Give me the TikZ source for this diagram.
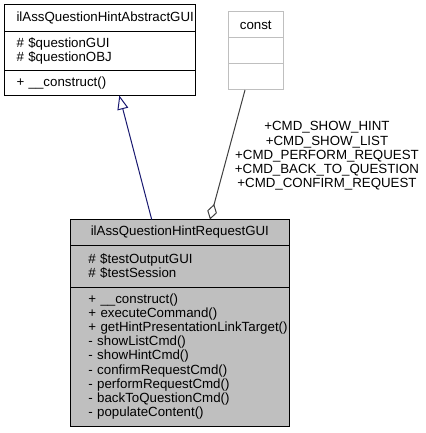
\documentclass[tikz,border=0pt]{standalone}
\usepackage{fontspec}
\setmainfont{Liberation Sans}
\usepackage{tikz}
\usetikzlibrary{positioning, arrows.meta, calc}
\definecolor{dgray}{RGB}{64,64,64}
\definecolor{lgray}{RGB}{191,191,191}
\definecolor{cgray}{RGB}{191,191,191}
\definecolor{inhblue}{RGB}{25,25,112}
\hyphenpenalty=10000
\exhyphenpenalty=10000

\begin{document}
\begin{tikzpicture}[x=1pt, y=-1pt,
    every node/.style={font=\fontsize{13.3}{14.2}\selectfont, inner ysep=0pt, outer sep=0pt},
    part/.style={draw, line width=1pt, anchor=north west, inner xsep=0pt}]
  \useasboundingbox (0,0) rectangle (425,433);
  % base class
  \node[part, minimum width=191pt, minimum height=27pt, text width=167pt, inner xsep=12pt, align=left]
    (abs1) at (4.5,4.5) {ilAssQuestionHintAbstractGUI};
  \node[part, minimum width=191pt, minimum height=39pt, text width=167pt, inner xsep=12pt, align=left]
    (abs2) at (abs1.south west) {\#~\$questionGUI\\\#~\$questionOBJ};
  \node[part, minimum width=191pt, minimum height=25pt, text width=167pt, inner xsep=12pt, align=left]
    (abs3) at (abs2.south west) {+~\_\_construct()};
  % const
  \node[part, draw=lgray, minimum width=54.5pt, minimum height=26pt, text width=54.5pt, align=center]
    (cst1) at (228.5,12) {const};
  \node[part, draw=lgray, minimum width=54.5pt, minimum height=26pt] (cst2) at (cst1.south west) {};
  \node[part, draw=lgray, minimum width=54.5pt, minimum height=26pt] (cst3) at (cst2.south west) {};
  % request class
  \node[part, fill=cgray, minimum width=218.3pt, minimum height=25.5pt, text width=218.3pt, align=center]
    (req1) at (70.7,219.5) {ilAssQuestionHintRequestGUI};
  \node[part, fill=cgray, minimum width=218.3pt, minimum height=42pt, text width=183pt, inner xsep=17.6pt, align=left]
    (req2) at (req1.south west) {\#~\$testOutputGUI\\\#~\$testSession};
  \node[part, fill=cgray, minimum width=218.3pt, minimum height=139pt, text width=183pt, inner xsep=17.6pt, align=left]
    (req3) at (req2.south west) {+~\_\_construct()\\+~executeCommand()\\+~getHintPresentationLinkTarget()\\-~showListCmd()\\-~showHintCmd()\\-~confirmRequestCmd()\\-~performRequestCmd()\\-~backToQuestionCmd()\\-~populateContent()};
  % edges
  \draw[inhblue, line width=1pt, -{Triangle[open, length=14pt, width=11pt]}]
    ([xshift=81pt]req1.north west) -- ([xshift=114.8pt]abs3.south west);
  \draw[dgray, line width=1pt, -{Diamond[open, length=16pt, width=10pt]}]
    ([xshift=16.5pt]cst3.south west) -- ([xshift=139.3pt]req1.north west);
  \node[align=center] (cmds) at (327,156)
    {+CMD\_SHOW\_HINT\\+CMD\_SHOW\_LIST\\+CMD\_PERFORM\_REQUEST\\+CMD\_BACK\_TO\_QUESTION\\+CMD\_CONFIRM\_REQUEST};
\end{tikzpicture}
\end{document}
